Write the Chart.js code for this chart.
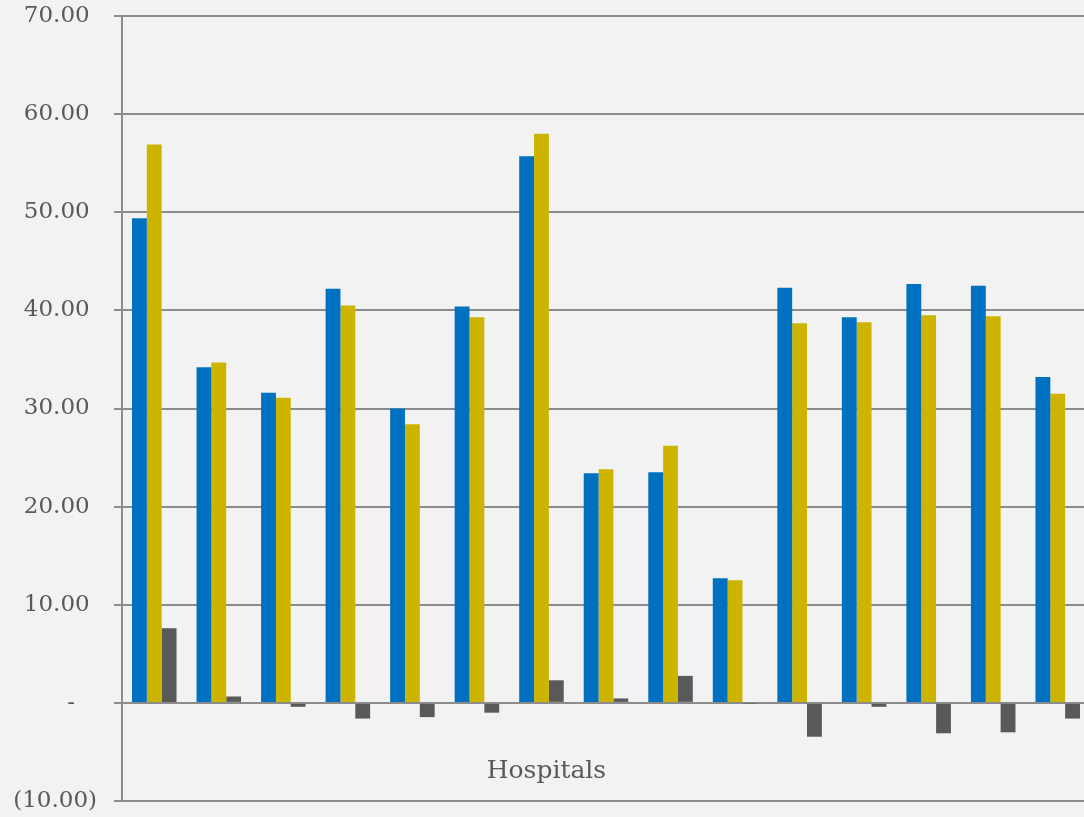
<!DOCTYPE html>
<html>
<head>
<meta charset="utf-8">
<script src="https://cdn.jsdelivr.net/npm/chart.js@4/dist/chart.umd.min.js"></script>
<style>
  html, body { margin: 0; padding: 0; background: #f2f2f2; overflow: hidden; }
  #wrap { width: 1090px; height: 817px; }
</style>
</head>
<body>
<div id="wrap"><canvas id="graf"></canvas></div>
<script>
// 15 hospitais, 3 series cada
const hospitais = ["H1","H2","H3","H4","H5","H6","H7","H8","H9","H10","H11","H12","H13","H14","H15"];
const serieAzul = [49.4, 34.2, 31.6, 42.2, 30.0, 40.4, 55.7, 23.4, 23.5, 12.7, 42.3, 39.3, 42.7, 42.5, 33.2];
const serieAmarela = [56.9, 34.7, 31.1, 40.5, 28.4, 39.3, 58.0, 23.8, 26.2, 12.5, 38.7, 38.8, 39.5, 39.4, 31.5];
const serieDiferenca = [7.6, 0.65, -0.4, -1.6, -1.45, -1.0, 2.3, 0.45, 2.75, -0.05, -3.45, -0.4, -3.1, -3.0, -1.6];
const tituloEixo = "Hospitals";
const indiceTitulo = 6;

const corTexto = "#595959";
const corGrade = "#8c8c8c";

function formatoContabil(v) {
  if (v === 0) return "-   ";
  if (v < 0) return "(" + Math.abs(v).toFixed(2) + ")";
  return v.toFixed(2) + " ";
}

// rótulo do eixo x desenhado dentro da área do gráfico
const rotuloHospitais = {
  id: "rotuloHospitais",
  afterDraw(chart) {
    const ctx = chart.ctx;
    const x = chart.scales.x.getPixelForValue(indiceTitulo) + 5;
    const y = chart.scales.y.getPixelForValue(-7);
    ctx.save();
    ctx.font = "25px 'DejaVu Serif'";
    ctx.fillStyle = corTexto;
    ctx.textAlign = "center";
    ctx.textBaseline = "middle";
    ctx.fillText(tituloEixo, x, y);
    ctx.restore();
  }
};

new Chart(document.getElementById("graf"), {
  type: "bar",
  data: {
    labels: hospitais,
    datasets: [
      { data: serieAzul, backgroundColor: "#0070c0" },
      { data: serieAmarela, backgroundColor: "#cdb400" },
      { data: serieDiferenca, backgroundColor: "#595959" }
    ]
  },
  options: {
    responsive: true,
    maintainAspectRatio: false,
    animation: false,
    layout: { padding: { top: 16, bottom: 16, left: 0, right: 0 } },
    datasets: { bar: { barPercentage: 1, categoryPercentage: 0.69 } },
    plugins: { legend: { display: false }, tooltip: { enabled: false } },
    scales: {
      x: { display: false },
      y: {
        min: -10,
        max: 70,
        afterFit(scale) {
          scale.width = 122;
          scale.paddingTop = 0;
          scale.paddingBottom = 0;
        },
        ticks: {
          stepSize: 10,
          padding: 17,
          color: corTexto,
          font: { family: "'DejaVu Serif'", size: 23 },
          callback: v => formatoContabil(v)
        },
        grid: { color: corGrade, lineWidth: 2, tickLength: 8 },
        border: { display: true, color: corGrade, width: 2 }
      }
    }
  },
  plugins: [rotuloHospitais]
});
</script>
</body>
</html>
